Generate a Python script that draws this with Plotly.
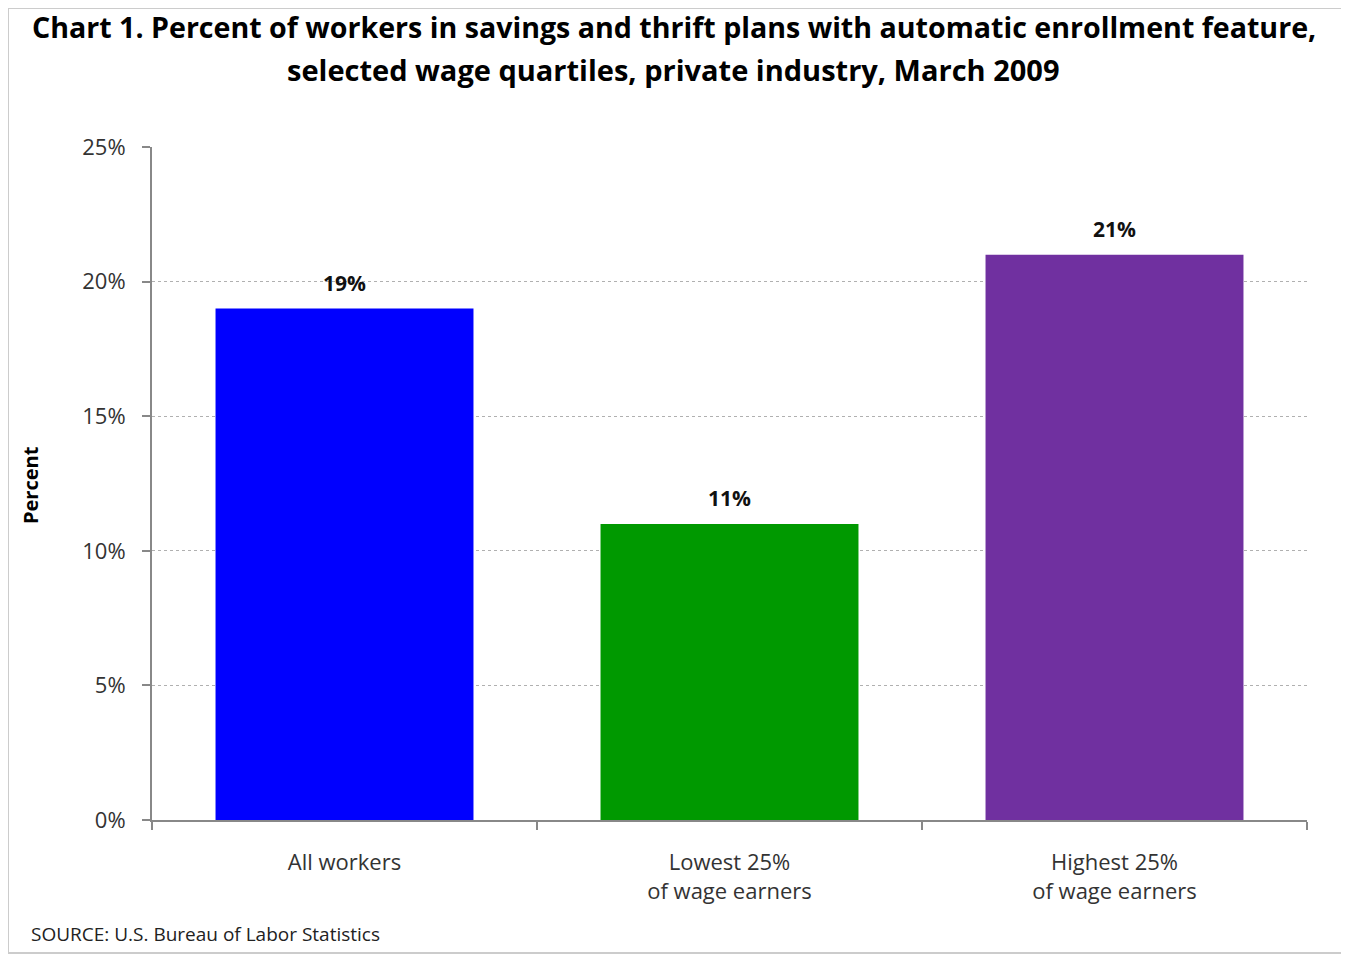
import plotly.graph_objects as go

categories = ["All workers", "Lowest 25%<br>of wage earners", "Highest 25%<br>of wage earners"]
values = [19, 11, 21]
labels = ["19%", "11%", "21%"]
colors = ["#0000FF", "#009900", "#7030A0"]
yticks = [0, 5, 10, 15, 20, 25]
yticklabels = ["0%", "5%", "10%", "15%", "20%", "25%"]

OFF = 8  # page body margin
W, H = 1349 - OFF, 955 - OFF
ml = 152 - OFF
mt = 147 - OFF
plot_r = 1307 - OFF
plot_b = 820 - OFF
mr = W - plot_r
mb = H - plot_b
pw, ph = W - ml - mr, H - mt - mb

def px_x(p):
    return (p - OFF - ml) / pw

def px_y(p):
    return (H - mb - (p - OFF)) / ph

FONT = "'Open Sans', Lato, sans-serif"

fig = go.Figure(go.Bar(
    x=categories, y=values, marker=dict(color=colors, line=dict(width=0)),
    hoverinfo="x+y",
))

annotations = []
for c, v, t in zip(categories, values, labels):
    annotations.append(dict(
        x=c, y=v, xref="x", yref="y", text="<b>" + t + "</b>", showarrow=False,
        xanchor="center", yanchor="middle", yshift=26,
        font=dict(family=FONT, size=21, color="#111111"),
    ))

title_lines = [
    ("<b>Chart 1. Percent of workers in savings and thrift plans with automatic enrollment feature,</b>", 674, 27, 28.6),
    ("<b>selected wage quartiles, private industry, March 2009</b>", 673, 70, 29),
]
for txt, cx, cy, fs in title_lines:
    annotations.append(dict(
        text=txt, xref="paper", yref="paper", x=px_x(cx), y=px_y(cy),
        xanchor="center", yanchor="middle", showarrow=False,
        font=dict(family=FONT, size=fs, color="#000000"),
    ))

annotations.append(dict(
    text="<b>Percent</b>", xref="paper", yref="paper", x=px_x(30), y=px_y(485),
    xanchor="center", yanchor="middle", textangle=-90, showarrow=False,
    font=dict(family=FONT, size=20, color="#000000"),
))
annotations.append(dict(
    text="SOURCE: U.S. Bureau of Labor Statistics",
    xref="paper", yref="paper", x=px_x(29), y=px_y(934),
    xanchor="left", yanchor="middle", showarrow=False,
    font=dict(family=FONT, size=19, color="#222222"),
))

fig.update_layout(
    width=W, height=H,
    margin=dict(l=ml, r=mr, t=mt, b=mb),
    paper_bgcolor="white", plot_bgcolor="white",
    bargap=0.33, showlegend=False,
    font=dict(family=FONT, color="#222222"),
    xaxis=dict(
        type="category", showline=True, linecolor="#888888", linewidth=2,
        ticks="outside", tickson="boundaries", ticklen=8, tickcolor="#888888", tickwidth=2,
        tickfont=dict(family=FONT, size=22, color="#333333"),
        ticklabelstandoff=22,
        showgrid=False, zeroline=False,
    ),
    yaxis=dict(
        range=[0, 25], tickvals=yticks, ticktext=yticklabels,
        showline=True, linecolor="#888888", linewidth=2,
        ticks="outside", ticklen=8, tickcolor="#888888", tickwidth=2,
        tickfont=dict(family=FONT, size=22, color="#333333"),
        ticklabelstandoff=12,
        showgrid=True, gridcolor="#B0B0B0", griddash="dot", gridwidth=1,
        zeroline=False,
    ),
    shapes=[dict(
        type="rect", xref="paper", yref="paper",
        x0=px_x(8), x1=px_x(1346), y0=px_y(953), y1=px_y(8),
        line=dict(color="#CCCCCC", width=2), fillcolor="rgba(0,0,0,0)", layer="below",
    )],
    annotations=annotations,
)

fig.write_html("out.html")
